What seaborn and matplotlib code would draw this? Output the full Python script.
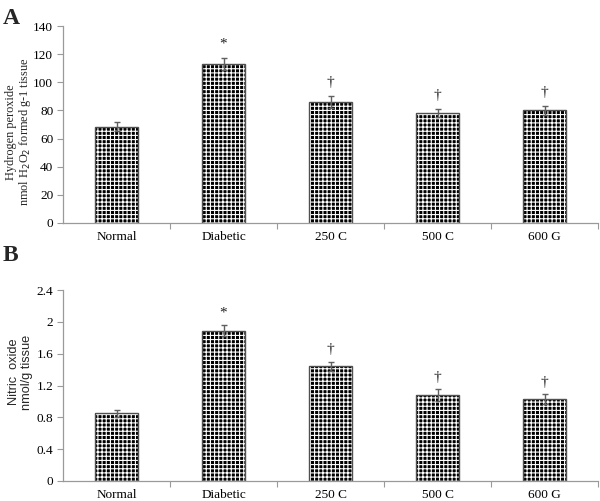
import pandas as pd
import matplotlib
matplotlib.use("Agg")
import matplotlib.pyplot as plt
import seaborn as sns

# data
groups = ["Normal", "Diabetic", "250 C", "500 C", "600 G"]
h2o2_mean = [68.5, 113, 86, 78, 80]
h2o2_err = [3.3, 4.5, 4.4, 3.0, 3.3]
h2o2_mark = ["", "*", "\u2020", "\u2020", "\u2020"]
no_mean = [0.85, 1.89, 1.44, 1.08, 1.03]
no_err = [0.04, 0.07, 0.06, 0.07, 0.06]
no_mark = ["", "*", "\u2020", "\u2020", "\u2020"]

sns.set_style("ticks")
plt.rcParams["font.family"] = ["Liberation Serif", "DejaVu Serif"]
plt.rcParams["hatch.linewidth"] = 0.8
plt.rcParams["axes.edgecolor"] = "#9a9a9a"
plt.rcParams["xtick.color"] = "#9a9a9a"
plt.rcParams["ytick.color"] = "#9a9a9a"
plt.rcParams["xtick.labelcolor"] = "black"
plt.rcParams["ytick.labelcolor"] = "black"

fig = plt.figure(figsize=(6, 5.01), dpi=100)
ax_a = fig.add_axes([0.105, 0.555, 0.892, 0.393])
ax_b = fig.add_axes([0.105, 0.040, 0.892, 0.381])


def draw_panel(ax, means, errs, marks, ymax, ystep, fmt, mark_gap):
    df = pd.DataFrame({"group": groups, "value": means})
    # checkered fill: black face with white grid hatch
    sns.barplot(data=df, x="group", y="value", color="black", width=0.4,
                ax=ax, errorbar=None)
    for p in ax.patches:
        p.set_facecolor("black")
        p.set_edgecolor("white")
        p.set_hatch("++++")
        p.set_linewidth(0)
    # outline
    sns.barplot(data=df, x="group", y="value", fill=False, width=0.4,
                ax=ax, errorbar=None, edgecolor="#505050", linewidth=1.0)
    ax.errorbar(range(len(groups)), means, yerr=errs, fmt="none",
                ecolor="#606060", elinewidth=1.0, capsize=2.5, capthick=1.0)
    for i, (m, e, s) in enumerate(zip(means, errs, marks)):
        if s:
            ax.annotate(s, (i, m + e), xytext=(0, mark_gap),
                        textcoords="offset points", ha="center", va="bottom",
                        fontsize=11, color="#222222")
    ax.set_xlim(-0.5, len(groups) - 0.5)
    ax.set_ylim(0, ymax)
    ticks = [round(ystep * k, 2) for k in range(int(round(ymax / ystep)) + 1)]
    ax.set_yticks(ticks)
    ax.set_yticklabels([fmt(t) for t in ticks], fontsize=9.5)
    # category ticks sit between the bars
    ax.set_xticks([i + 0.5 for i in range(len(groups))])
    ax.set_xticklabels([])
    ax.set_xticks(range(len(groups)), minor=True)
    ax.set_xticklabels(groups, minor=True, fontsize=9.5)
    ax.tick_params(axis="x", which="minor", length=0, pad=6)
    ax.tick_params(axis="x", which="major", length=4, width=0.8)
    ax.tick_params(axis="y", length=4, width=0.8, pad=3)
    ax.set_xlabel("")
    sns.despine(ax=ax)
    for sp in ["left", "bottom"]:
        ax.spines[sp].set_linewidth(0.9)


draw_panel(ax_a, h2o2_mean, h2o2_err, h2o2_mark, 140, 20,
           lambda t: f"{int(t)}", 5)
ax_a.set_ylabel("Hydrogen peroxide\nnmol H$_2$O$_2$ formed g-1 tissue",
                fontsize=8.8, linespacing=1.05, va="center")
ax_a.yaxis.set_label_coords(-0.082, 0.46)

draw_panel(ax_b, no_mean, no_err, no_mark, 2.4, 0.4,
           lambda t: f"{t:g}", 4)
ax_b.set_ylabel("Nitric  oxide\nnmol/g tissue", fontsize=9.2,
                family=["Liberation Sans", "DejaVu Sans"],
                linespacing=1.15, va="center")
ax_b.yaxis.set_label_coords(-0.08, 0.57)

fig.text(0.005, 0.985, "A", fontsize=17, fontweight="bold", va="top")
fig.text(0.005, 0.51, "B", fontsize=17, fontweight="bold", va="top")

fig.savefig("out.png", dpi=100)
